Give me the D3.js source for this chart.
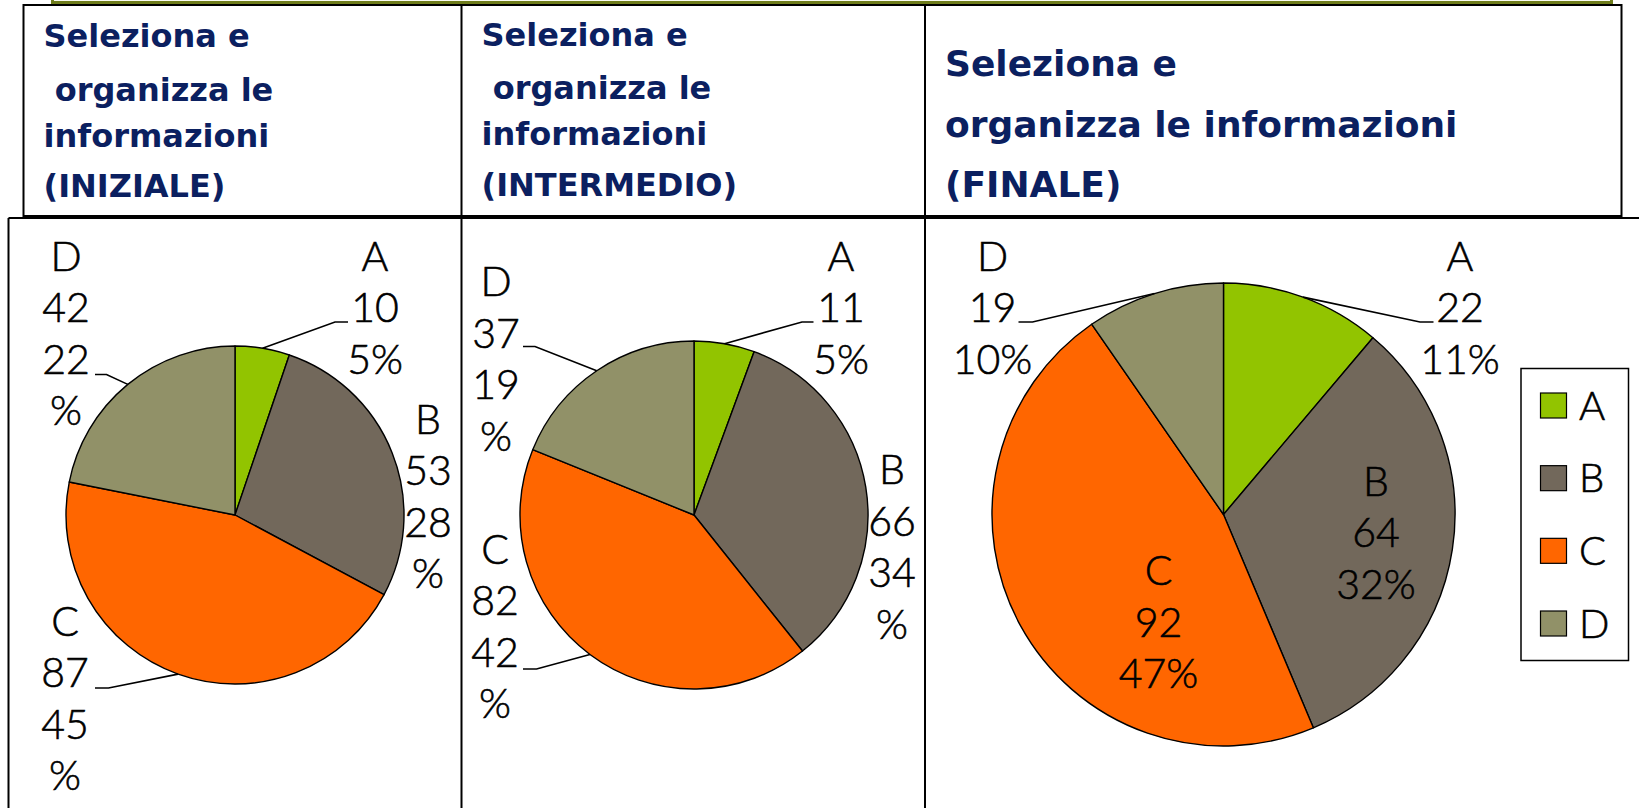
<!DOCTYPE html>
<html>
<head>
<meta charset="utf-8">
<script src="https://cdn.jsdelivr.net/npm/d3@7"></script>
<style>
  html, body { margin: 0; padding: 0; background: #ffffff; }
  svg { display: block; }
</style>
</head>
<body>
<script>
// ---- Data -------------------------------------------------------------
const categories = ["A", "B", "C", "D"];

const valuesIniziale   = [10, 53, 87, 42];
const valuesIntermedio = [11, 66, 82, 37];
const valuesFinale     = [22, 64, 92, 19];

const pctIniziale   = ["5%", "28%", "45%", "22%"];
const pctIntermedio = ["5%", "34%", "42%", "19%"];
const pctFinale     = ["11%", "32%", "47%", "10%"];

const headerIniziale   = ["Seleziona e", " organizza le", "informazioni", "(INIZIALE)"];
const headerIntermedio = ["Seleziona e", " organizza le", "informazioni", "(INTERMEDIO)"];
const headerFinale     = ["Seleziona e", "organizza le informazioni", "(FINALE)"];

// ---- Styles -----------------------------------------------------------
const sliceColors = ["#92c400", "#72685b", "#ff6600", "#919168"];
const headerColor = "#0b2060";
const labelFont = "Lato, 'Liberation Sans', sans-serif";
const labelWeight = 300;
const labelStroke = 0.6;   // slight thickening of the light face
const headerFont = "'DejaVu Sans', sans-serif";

const W = 1639, H = 808;
const svg = d3.select("body").append("svg")
  .attr("width", W).attr("height", H)
  .attr("viewBox", `0 0 ${W} ${H}`);

// ---- Frame: olive band on top, header table, chart row ----------------
svg.append("rect")
  .attr("x", 52.5).attr("y", -20).attr("width", 1559).attr("height", 22.5)
  .attr("fill", "#fbfdf2").attr("stroke", "#6f7d1c").attr("stroke-width", 3);

const colX = [23.5, 461.5, 925, 1621.5];
const frame = svg.append("g").attr("fill", "none").attr("stroke", "#000");
// header box
frame.append("rect").attr("x", colX[0]).attr("y", 5)
  .attr("width", colX[3] - colX[0]).attr("height", 211)
  .attr("stroke-width", 2);
// chart row
frame.append("line").attr("x1", 8.5).attr("x2", W).attr("y1", 218).attr("y2", 218).attr("stroke-width", 2);
frame.append("line").attr("x1", 8.5).attr("x2", 8.5).attr("y1", 218).attr("y2", H).attr("stroke-width", 2);
[colX[1], colX[2]].forEach(x => {
  frame.append("line").attr("x1", x).attr("x2", x).attr("y1", 5).attr("y2", H).attr("stroke-width", 2);
});

// ---- Header texts -----------------------------------------------------
const headers = [
  { lines: headerIniziale,   x: 43.5,  baselines: [47.3, 100.5, 146.5, 197.3], size: 32 },
  { lines: headerIntermedio, x: 481.5, baselines: [45.5, 99, 144.5, 195.5],   size: 32 },
  { lines: headerFinale,     x: 945,   baselines: [76, 136.5, 197],            size: 36 }
];
headers.forEach(h => {
  svg.append("g")
    .selectAll("text").data(h.lines).join("text")
    .attr("x", h.x)
    .attr("y", (d, i) => h.baselines[i])
    .attr("font-family", headerFont)
    .attr("font-weight", "bold")
    .attr("font-size", h.size)
    .attr("fill", headerColor)
    .style("white-space", "pre")
    .text(d => d);
});

// ---- Pie charts -------------------------------------------------------
// Label layout: centre of first text line relative to the pie centre,
// whether the percentage wraps its "%" onto its own line, and the leader
// line elbow (ex, ey) plus the x of its end point.
const pies = [
  {
    values: valuesIniziale, pct: pctIniziale, cx: 235, cy: 515, r: 169,
    labels: [
      { dx: 140,  dy: -259, wrap: false, leader: { ex: 100,    ey: -193,  tx: 113 } },
      { dx: 193,  dy: -96,  wrap: true,  leader: null },
      { dx: -170, dy: 106,  wrap: true,  leader: { ex: -126.5, ey: 173,   tx: -140 } },
      { dx: -169, dy: -259, wrap: true,  leader: { ex: -128.5, ey: -140.5, tx: -140 } }
    ]
  },
  {
    values: valuesIntermedio, pct: pctIntermedio, cx: 694, cy: 515, r: 174,
    labels: [
      { dx: 147,  dy: -259,  wrap: false, leader: { ex: 108,  ey: -193, tx: 119.5 } },
      { dx: 198,  dy: -45.5, wrap: true,  leader: null },
      { dx: -199, dy: 34,    wrap: true,  leader: { ex: -157.5, ey: 154, tx: -171 } },
      { dx: -198, dy: -233.5, wrap: true, leader: { ex: -159, ey: -168.5, tx: -171 } }
    ]
  },
  {
    values: valuesFinale, pct: pctFinale, cx: 1223.5, cy: 514.5, r: 231.5,
    labels: [
      { dx: 236.5, dy: -258.5, wrap: false, leader: { ex: 196.5, ey: -192.5, tx: 210 } },
      { dx: 152.5, dy: -33.5,  wrap: false, leader: null },
      { dx: -65,   dy: 56,     wrap: false, leader: null },
      { dx: -231,  dy: -258.5, wrap: false, leader: { ex: -191, ey: -192.5, tx: -205 } }
    ]
  }
];

const labelSize = 41;
const lineStep = 51.5;
const pie = d3.pie().sort(null).value(d => d);

pies.forEach(p => {
  const arcs = pie(p.values);
  const arc = d3.arc().innerRadius(0).outerRadius(p.r);
  const rim = d3.arc().innerRadius(p.r).outerRadius(p.r);
  const g = svg.append("g").attr("transform", `translate(${p.cx},${p.cy})`);

  g.selectAll("path.slice").data(arcs).join("path")
    .attr("class", "slice")
    .attr("d", arc)
    .attr("fill", (d, i) => sliceColors[i])
    .attr("stroke", "#000")
    .attr("stroke-width", 1.4)
    .attr("stroke-linejoin", "round");

  // leader lines from the rim at the slice's middle angle
  arcs.forEach((d, i) => {
    const L = p.labels[i].leader;
    if (!L) return;
    const [sx, sy] = rim.centroid(d);
    g.append("polyline")
      .attr("points", `${sx},${sy} ${L.ex},${L.ey} ${L.tx},${L.ey}`)
      .attr("fill", "none").attr("stroke", "#000").attr("stroke-width", 1.6);
  });

  // data labels: category, value, percentage
  arcs.forEach((d, i) => {
    const lay = p.labels[i];
    const pct = p.pct[i];
    const lines = [categories[i], String(p.values[i])];
    if (lay.wrap) { lines.push(pct.replace("%", ""), "%"); } else { lines.push(pct); }
    g.append("g").selectAll("text").data(lines).join("text")
      .attr("x", lay.dx)
      .attr("y", (t, k) => lay.dy + k * lineStep + 0.36 * labelSize)
      .attr("text-anchor", "middle")
      .attr("font-family", labelFont)
      .attr("font-weight", labelWeight)
      .attr("font-size", labelSize)
      .attr("fill", "#000")
      .attr("stroke", "#000")
      .attr("stroke-width", labelStroke)
      .text(t => t);
  });
});

// ---- Legend -----------------------------------------------------------
const legend = svg.append("g");
legend.append("rect")
  .attr("x", 1521).attr("y", 368.5).attr("width", 107.5).attr("height", 292)
  .attr("fill", "#fff").attr("stroke", "#000").attr("stroke-width", 1.5);
const legendY = d3.scalePoint().domain(categories).range([405.5, 623.5]);
const items = legend.selectAll("g.item").data(categories).join("g").attr("class", "item");
items.append("rect")
  .attr("x", 1540.5).attr("y", d => legendY(d) - 12.5)
  .attr("width", 26).attr("height", 25)
  .attr("fill", (d, i) => sliceColors[i])
  .attr("stroke", "#000").attr("stroke-width", 1.2);
items.append("text")
  .attr("x", 1579).attr("y", d => legendY(d) + 14)
  .attr("font-family", labelFont)
  .attr("font-weight", labelWeight)
  .attr("font-size", 40)
  .attr("fill", "#000")
  .attr("stroke", "#000")
  .attr("stroke-width", labelStroke)
  .text(d => d);
</script>
</body>
</html>
